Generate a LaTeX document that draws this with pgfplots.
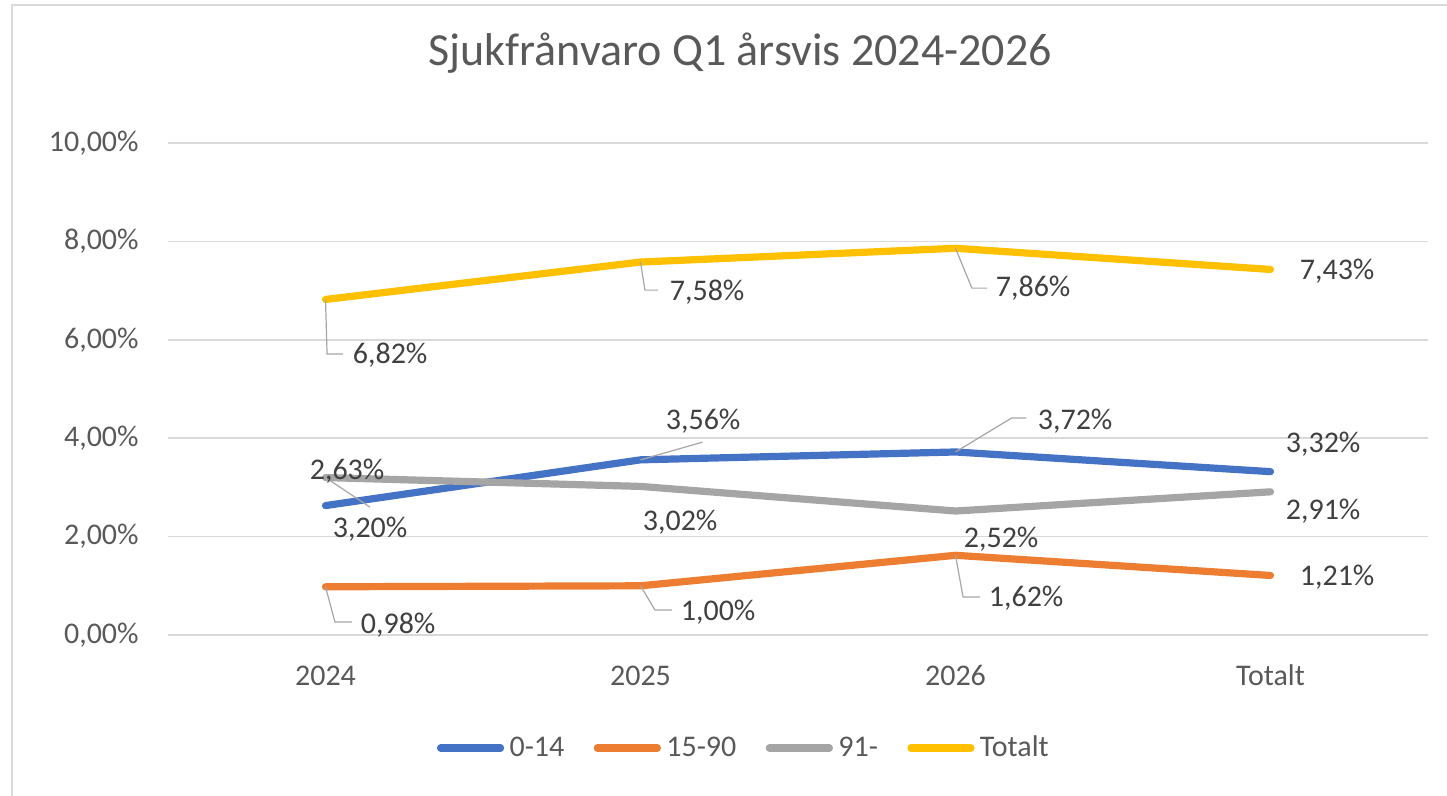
\documentclass[border=0pt]{standalone}
\usepackage{fontspec}
\setmainfont{Carlito}
\usepackage{pgfplots}
\usepackage{pgfplotstable}
\pgfplotsset{compat=1.18}

\definecolor{cBlue}{HTML}{4472C4}
\definecolor{cOrange}{HTML}{ED7D31}
\definecolor{cGray}{HTML}{A5A5A5}
\definecolor{cGold}{HTML}{FFC000}
\definecolor{cGrid}{HTML}{D9D9D9}
\definecolor{cTick}{HTML}{595959}
\definecolor{cLabel}{HTML}{404040}
\definecolor{cLeader}{HTML}{A6A6A6}

\newcommand{\chartfont}{\fontsize{15bp}{18bp}\selectfont}

% x y, then label offset (bp) from the point
\pgfplotstableread{
x y dx dy
0 2.63 10.8 17.3
1 3.56 31.3 19.4
2 3.72 59.8 15.5
3 3.32 26.3 13.9
}\tblA
\pgfplotstableread{
x y dx dy
0 0.98 36.3 -19.1
1 1.00 38.8 -13.1
2 1.62 35.3 -21.4
3 1.21 33.3 -0.8
}\tblB
\pgfplotstableread{
x y dx dy
0 3.20 22.3 -25.7
1 3.02 19.8 -17.8
2 2.52 22.8 -14.0
3 2.91 26.3 -9.6
}\tblC
\pgfplotstableread{
x y dx dy
0 6.82 32.3 -27.8
1 7.58 33.3 -15.0
2 7.86 38.8 -19.9
3 7.43 33.3 -0.8
}\tblD

\pgfplotsset{
    series/.style={line width=3.6bp, line cap=round, line join=round,
        point meta=y,
        nodes near coords={\pgfmathprintnumber[fixed, fixed zerofill, precision=2, use comma, assume math mode=true]{\pgfplotspointmeta}\%},
        visualization depends on={\thisrow{dx} \as \labeldx},
        visualization depends on={\thisrow{dy} \as \labeldy},
        every node near coord/.append style={anchor=center, inner sep=0pt,
            xshift=\labeldx bp, yshift=\labeldy bp, font=\chartfont, text=cLabel}},
    leader/.style={cLeader, line width=0.6bp, forget plot},
}

\begin{document}
\begin{tikzpicture}
\useasboundingbox (-84bp,-80.5bp) rectangle (639.5bp,317.5bp);
\draw[cGrid, line width=1bp] (-78bp,-81bp) -- (-78bp,315bp) -- (640bp,315bp);
\begin{axis}[
    at={(0,0)}, anchor=south west,
    scale only axis,
    width=630bp, height=246bp,
    xmin=-0.5, xmax=3.5,
    ymin=0, ymax=10,
    clip=false,
    xtick={0,1,2,3},
    xticklabels={2024,2025,2026,Totalt},
    ytick={0,2,4,6,8,10},
    yticklabels={{0,00\%},{2,00\%},{4,00\%},{6,00\%},{8,00\%},{10,00\%}},
    ymajorgrids,
    grid style={cGrid, line width=0.75bp},
    axis line style={draw=none},
    major tick length=0pt,
    tick label style={font=\chartfont, text=cTick},
    xticklabel style={anchor=base, yshift=-25bp},
    yticklabel style={anchor=east, inner sep=0pt, xshift=-14.5bp},
    title={Sjukfrånvaro Q1 årsvis 2024-2026},
    title style={at={(0.454,1.134)}, anchor=base, font=\fontsize{23bp}{27bp}\selectfont, text=cTick},
    legend style={at={(0.457,-0.2297)}, anchor=center, draw=none, fill=none,
        legend columns=-1, font=\chartfont, text=cTick,
        nodes={inner sep=1bp},
        /tikz/every odd column/.append style={column sep=1.7bp},
        /tikz/every even column/.append style={column sep=13.7bp}},
    legend image code/.code={\draw[#1] (0bp,0bp) -- (30bp,0bp);},
]
\addplot[series, cBlue] table[x=x, y=y] {\tblA};
\addplot[series, cOrange] table[x=x, y=y] {\tblB};
\addplot[series, cGray] table[x=x, y=y] {\tblC};
\addplot[series, cGold] table[x=x, y=y] {\tblD};
\legend{0-14, 15-90, 91-, Totalt}

% leader lines of the data labels
\addplot[leader] coordinates {(0,6.82) (0.005,5.71) (0.056,5.71)};
\addplot[leader] coordinates {(1,7.58) (1.014,7.01) (1.055,7.01)};
\addplot[leader] coordinates {(2,7.86) (2.052,7.05) (2.1,7.05)};
\addplot[leader] coordinates {(1,3.56) (1.197,3.92)};
\addplot[leader] coordinates {(2,3.72) (2.178,4.41) (2.225,4.41)};
\addplot[leader] coordinates {(0,3.20) (0.141,2.60)};
\addplot[leader] coordinates {(0,0.98) (0.03,0.264) (0.084,0.264)};
\addplot[leader] coordinates {(1,1.00) (1.046,0.508) (1.1,0.508)};
\addplot[leader] coordinates {(2,1.62) (2.024,0.772) (2.078,0.772)};
\end{axis}
\end{tikzpicture}
\end{document}
